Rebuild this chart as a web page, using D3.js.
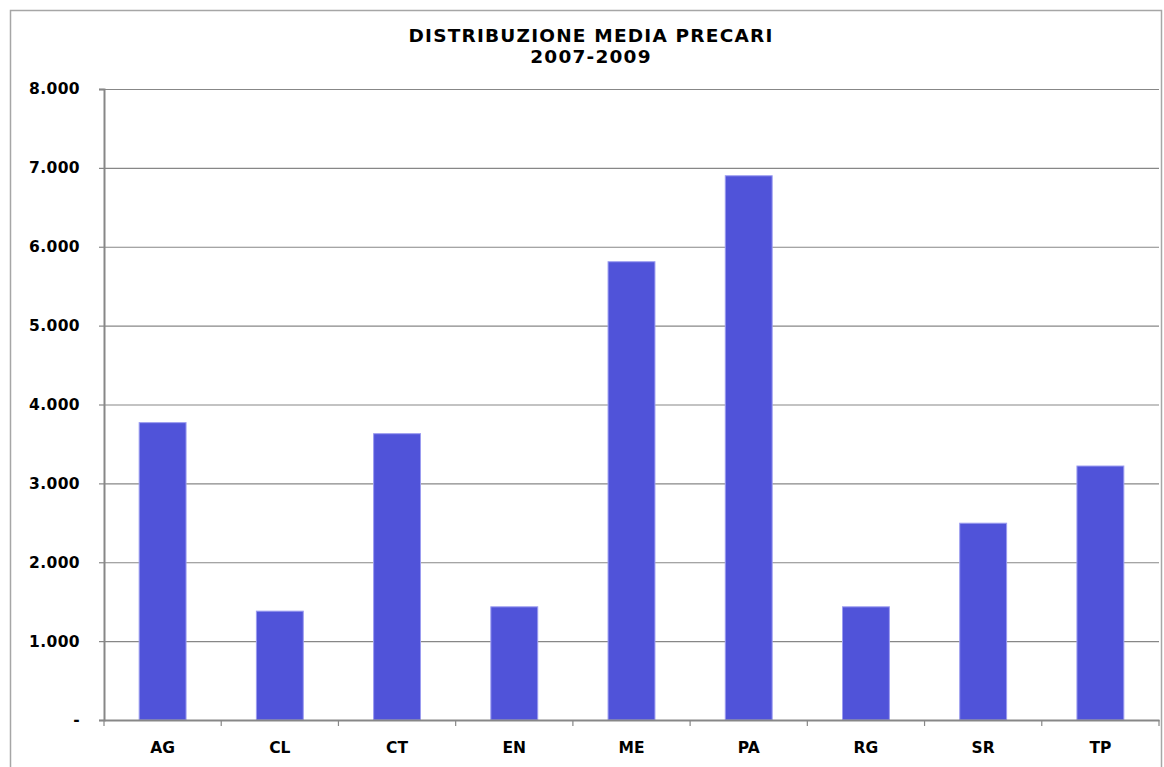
<!DOCTYPE html>
<html>
<head>
<meta charset="utf-8">
<script src="https://cdnjs.cloudflare.com/ajax/libs/d3/7.8.5/d3.min.js"></script>
<style>
  body { margin: 0; background: #fff; }
  text { font-family: "DejaVu Sans", Verdana, sans-serif; font-weight: bold; fill: #000; }
</style>
</head>
<body>
<div id="chart"></div>
<script>
// data
var categories = ["AG", "CL", "CT", "EN", "ME", "PA", "RG", "SR", "TP"];
var values = [3770, 1380, 3630, 1435, 5810, 6900, 1435, 2495, 3220];
var yTicks = [0, 1000, 2000, 3000, 4000, 5000, 6000, 7000, 8000];
var titleLines = ["DISTRIBUZIONE MEDIA PRECARI", "2007-2009"];

var W = 1164, H = 767;
var margin = {top: 89, right: 5, bottom: 46, left: 104},
    width = 1159 - margin.left,
    height = 720 - margin.top;

var svg = d3.select("#chart")
  .append("svg")
    .attr("width", W)
    .attr("height", H);

// outer frame
svg.append("rect")
    .attr("x", 10.5).attr("y", 10.5)
    .attr("width", 1151).attr("height", 800)
    .attr("fill", "none")
    .attr("stroke", "#a6a6a6")
    .attr("stroke-width", 1.5);

// title
svg.append("g").selectAll("text")
  .data(titleLines)
  .enter().append("text")
    .attr("x", 591)
    .attr("y", function(d, i) { return 42 + i * 21; })
    .attr("text-anchor", "middle")
    .style("font-size", "18.5px")
    .style("letter-spacing", "1.2px")
    .text(function(d) { return d; });

var g = svg.append("g")
    .attr("transform", "translate(" + margin.left + "," + margin.top + ")");

var x = d3.scaleBand()
    .domain(categories)
    .range([0, width])
    .paddingInner(0.6)
    .paddingOuter(0.3);

var step = x.step();

var y = d3.scaleLinear()
    .domain([0, 8000])
    .range([height, 0]);

var it = d3.formatLocale({decimal: ",", thousands: ".", grouping: [3], currency: ["", ""]});
var fmt = function(d) { return d === 0 ? "-" : it.format(",.0f")(d); };

// gridlines
g.append("g").selectAll("line")
  .data(yTicks.filter(function(d) { return d > 0; }))
  .enter().append("line")
    .attr("x1", 0).attr("x2", width)
    .attr("y1", function(d) { return y(d) + 0.5; })
    .attr("y2", function(d) { return y(d) + 0.5; })
    .attr("stroke", "#878787")
    .attr("stroke-width", 1.2);

// bars
g.append("g").selectAll("rect")
  .data(values)
  .enter().append("rect")
    .attr("x", function(d, i) { return x(categories[i]); })
    .attr("y", function(d) { return y(d); })
    .attr("width", x.bandwidth())
    .attr("height", function(d) { return height - y(d); })
    .attr("fill", "#5053d9")
    .attr("stroke", "#9b9cf0")
    .attr("stroke-width", 1);

// y axis
var yAxis = g.append("g")
    .call(d3.axisLeft(y).tickValues(yTicks).tickFormat(fmt).tickSize(5).tickPadding(19));
yAxis.select(".domain").attr("stroke", "#878787").attr("stroke-width", 2);
yAxis.selectAll(".tick line").attr("stroke", "#878787").attr("stroke-width", 1.2);
yAxis.selectAll("text").style("font-size", "15.5px").style("letter-spacing", "0.4px");

// x axis
var xAxis = g.append("g")
    .attr("transform", "translate(0," + height + ")")
    .call(d3.axisBottom(x).tickSize(0).tickPadding(22));
xAxis.select(".domain").attr("stroke", "#878787").attr("stroke-width", 2);
xAxis.selectAll("text").style("font-size", "15.5px");

// x tick marks on category boundaries
xAxis.append("g").selectAll("line")
  .data(d3.range(categories.length + 1))
  .enter().append("line")
    .attr("x1", function(i) { return i * step; })
    .attr("x2", function(i) { return i * step; })
    .attr("y1", 0).attr("y2", 6)
    .attr("stroke", "#878787")
    .attr("stroke-width", 1.2);
</script>
</body>
</html>
